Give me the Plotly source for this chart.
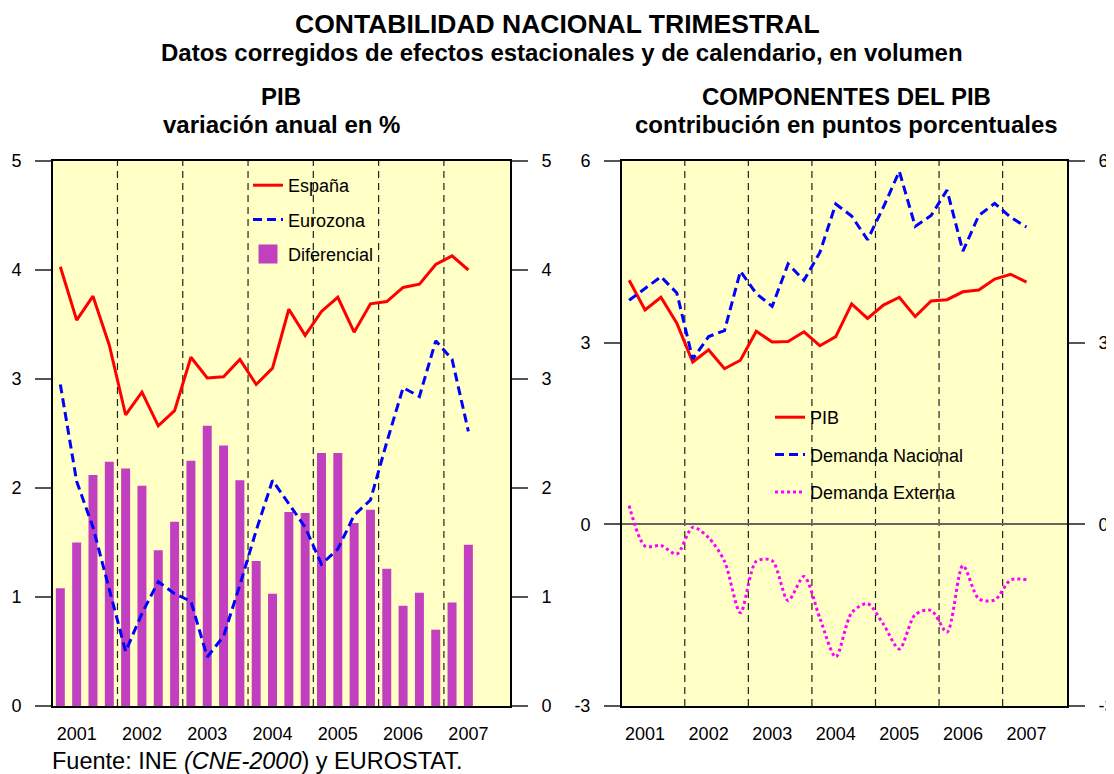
import plotly.graph_objects as go

# ---------------- data ----------------
quarters = list(range(26))  # 2001Q1 .. 2007Q2
year_labels = ["2001", "2002", "2003", "2004", "2005", "2006", "2007"]
year_tick_pos = [1, 5, 9, 13, 17, 21, 25]      # Q2 of each year
year_bounds = [3.5, 7.5, 11.5, 15.5, 19.5, 23.5]

espana = [4.03, 3.54, 3.76, 3.31, 2.67, 2.88, 2.57, 2.71, 3.20, 3.01, 3.02, 3.18, 2.95,
          3.10, 3.64, 3.40, 3.62, 3.75, 3.43, 3.69, 3.71, 3.84, 3.87, 4.05, 4.13, 4.00]
eurozona = [2.95, 2.06, 1.64, 1.08, 0.50, 0.85, 1.14, 1.03, 0.96, 0.45, 0.64, 1.11, 1.61,
            2.07, 1.86, 1.64, 1.30, 1.44, 1.75, 1.89, 2.42, 2.92, 2.84, 3.35, 3.18, 2.52]
diferencial = [1.08, 1.50, 2.12, 2.24, 2.18, 2.02, 1.43, 1.69, 2.25, 2.57, 2.39, 2.07, 1.33,
               1.03, 1.78, 1.77, 2.32, 2.32, 1.68, 1.80, 1.26, 0.92, 1.04, 0.70, 0.95, 1.48]

pib = [4.03, 3.54, 3.75, 3.32, 2.68, 2.88, 2.57, 2.71, 3.19, 3.01, 3.02, 3.18, 2.95,
       3.10, 3.64, 3.40, 3.62, 3.75, 3.43, 3.69, 3.71, 3.84, 3.87, 4.05, 4.13, 4.00]
demanda_nacional = [3.70, 3.89, 4.09, 3.82, 2.73, 3.10, 3.20, 4.18, 3.81, 3.60, 4.30, 4.03, 4.49,
                    5.29, 5.09, 4.70, 5.24, 5.83, 4.92, 5.10, 5.52, 4.51, 5.10, 5.30, 5.07, 4.91]
demanda_externa = [0.31, -0.36, -0.35, -0.49, -0.05, -0.22, -0.61, -1.46, -0.61, -0.60, -1.26, -0.86, -1.55,
                   -2.19, -1.46, -1.31, -1.65, -2.06, -1.49, -1.42, -1.78, -0.68, -1.23, -1.25, -0.92, -0.91]

left_ticks = [0, 1, 2, 3, 4, 5]
right_ticks = [-3, 0, 3, 6]
right_tick_text = ["-3", "0", "3", "6"]

# ---------------- style ----------------
FONT = "Arial, Liberation Sans, sans-serif"
W, H = 1114, 774
OX, OY = 8, 8          # page body offset
BG = "#FFFFC6"
RED, BLUE, MAG, PURP = "#FF0000", "#0000FF", "#FF00FF", "#C040C0"
TICKC = "#555555"

def px_x(p):
    return (p - OX) / W

def px_y(p):
    return 1 - (p - OY) / H

fig = go.Figure()

# left chart
fig.add_trace(go.Bar(x=quarters, y=diferencial, name="Diferencial", marker=dict(color=PURP, line=dict(width=0)),
                     width=0.55, xaxis="x", yaxis="y", showlegend=False))
fig.add_trace(go.Scatter(x=quarters, y=espana, name="España", mode="lines", line=dict(color=RED, width=3),
                         xaxis="x", yaxis="y", legend="legend", legendgroup="e", legendrank=1))
fig.add_trace(go.Scatter(x=quarters, y=eurozona, name="Eurozona", mode="lines",
                         line=dict(color=BLUE, width=3, dash="9px,5px"),
                         xaxis="x", yaxis="y", legend="legend", legendgroup="z", legendrank=2))
# legend entry for the bars (larger square swatch, as in the original)
fig.add_trace(go.Scatter(x=[None], y=[None], name="Diferencial", mode="markers",
                         marker=dict(symbol="square", size=16, color=PURP, line=dict(color=PURP, width=3)),
                         xaxis="x", yaxis="y", legend="legend", legendgroup="d", legendrank=3, hoverinfo="skip"))

# right chart
fig.add_trace(go.Scatter(x=quarters, y=pib, name="PIB", mode="lines", line=dict(color=RED, width=3),
                         xaxis="x2", yaxis="y2", legend="legend2", legendgroup="p", legendrank=1))
fig.add_trace(go.Scatter(x=quarters, y=demanda_nacional, name="Demanda Nacional", mode="lines",
                         line=dict(color=BLUE, width=3, dash="9px,5px"),
                         xaxis="x2", yaxis="y2", legend="legend2", legendgroup="n", legendrank=2))
fig.add_trace(go.Scatter(x=quarters, y=demanda_externa, name="Demanda Externa", mode="lines",
                         line=dict(color=MAG, width=3, dash="dot", shape="spline", smoothing=0.8),
                         xaxis="x2", yaxis="y2", legend="legend2", legendgroup="x", legendrank=3))

# invisible helpers so the right-side mirror axes are drawn
fig.add_trace(go.Scatter(x=[0], y=[0], mode="markers", marker=dict(opacity=0), showlegend=False,
                         hoverinfo="skip", xaxis="x", yaxis="y3"))
fig.add_trace(go.Scatter(x=[0], y=[0], mode="markers", marker=dict(opacity=0), showlegend=False,
                         hoverinfo="skip", xaxis="x2", yaxis="y4"))

LX = [px_x(53), px_x(510)]
RX = [px_x(622), px_x(1067)]
YD = [px_y(706), px_y(161)]
XR = [-0.45, 27.55]

xcommon = dict(range=XR, tickmode="array", tickvals=year_tick_pos, ticktext=year_labels,
               showgrid=False, zeroline=False, showline=True, linecolor="black", linewidth=2,
               mirror=True, ticks="outside", ticklen=10, tickcolor="rgba(0,0,0,0)",
               tickfont=dict(size=18, color="black", family=FONT))
ycommon = dict(showgrid=False, ticks="outside", ticklen=16, tickwidth=1.5, tickcolor=TICKC,
               tickfont=dict(size=18, color="black", family=FONT), ticklabelstandoff=10,
               showline=True, linecolor="black", linewidth=2, mirror=True)

fig.update_layout(
    width=W, height=H,
    margin=dict(l=0, r=0, t=0, b=0, autoexpand=False),
    paper_bgcolor="white", plot_bgcolor=BG,
    font=dict(family=FONT, color="black"),
    barmode="overlay",
    xaxis=dict(domain=LX, anchor="y", **xcommon),
    xaxis2=dict(domain=RX, anchor="y2", **xcommon),
    yaxis=dict(domain=YD, anchor="x", range=[0, 5], tickvals=left_ticks, zeroline=False, side="left", **ycommon),
    yaxis3=dict(domain=YD, anchor="x", overlaying="y", range=[0, 5], tickvals=left_ticks, zeroline=False,
                side="right", **ycommon),
    yaxis2=dict(domain=YD, anchor="x2", range=[-3, 6], tickvals=right_ticks, ticktext=right_tick_text,
                zeroline=True, zerolinecolor="#666666", zerolinewidth=1.5, side="left", **ycommon),
    yaxis4=dict(domain=YD, anchor="x2", overlaying="y2", range=[-3, 6], tickvals=right_ticks,
                ticktext=right_tick_text, zeroline=False, side="right", **ycommon),
    legend=dict(x=px_x(248), y=px_y(167), xanchor="left", yanchor="top", bgcolor="rgba(0,0,0,0)",
                font=dict(size=18, family=FONT), tracegroupgap=8, traceorder="grouped", itemwidth=30),
    legend2=dict(x=px_x(770), y=px_y(399), xanchor="left", yanchor="top", bgcolor="rgba(0,0,0,0)",
                 font=dict(size=18, family=FONT), tracegroupgap=11, traceorder="grouped", itemwidth=30),
    showlegend=True,
)

shapes = []
for xr, yr in (("x", "y"), ("x2", "y2")):
    for b in year_bounds:
        shapes.append(dict(type="line", xref=xr, yref=yr + " domain", x0=b, x1=b, y0=0, y1=1,
                           line=dict(color="#222222", width=1.2, dash="7px,5px"), layer="below"))
fig.update_layout(shapes=shapes)

ann = [
    dict(text="<b>CONTABILIDAD NACIONAL TRIMESTRAL</b>", x=px_x(557), y=px_y(24), size=26.5),
    dict(text="<b>Datos corregidos de efectos estacionales y de calendario, en volumen</b>", x=px_x(562), y=px_y(53), size=24),
    dict(text="<b>PIB</b>", x=px_x(281), y=px_y(96), size=24),
    dict(text="<b>variación anual en %</b>", x=px_x(281), y=px_y(124), size=24),
    dict(text="<b>COMPONENTES DEL PIB</b>", x=px_x(846), y=px_y(96), size=24),
    dict(text="<b>contribución en puntos porcentuales</b>", x=px_x(846), y=px_y(124), size=24),
]
for a in ann:
    fig.add_annotation(text=a["text"], x=a["x"], y=a["y"], xref="paper", yref="paper", showarrow=False,
                       xanchor="center", yanchor="middle", font=dict(size=a["size"], family=FONT, color="black"))
fig.add_annotation(text="Fuente: INE <i>(CNE-2000</i>) y EUROSTAT.", x=px_x(50), y=px_y(761), xref="paper",
                   yref="paper", showarrow=False, xanchor="left", yanchor="middle",
                   font=dict(size=23.5, family=FONT, color="black"))

fig.write_html("out.html")
